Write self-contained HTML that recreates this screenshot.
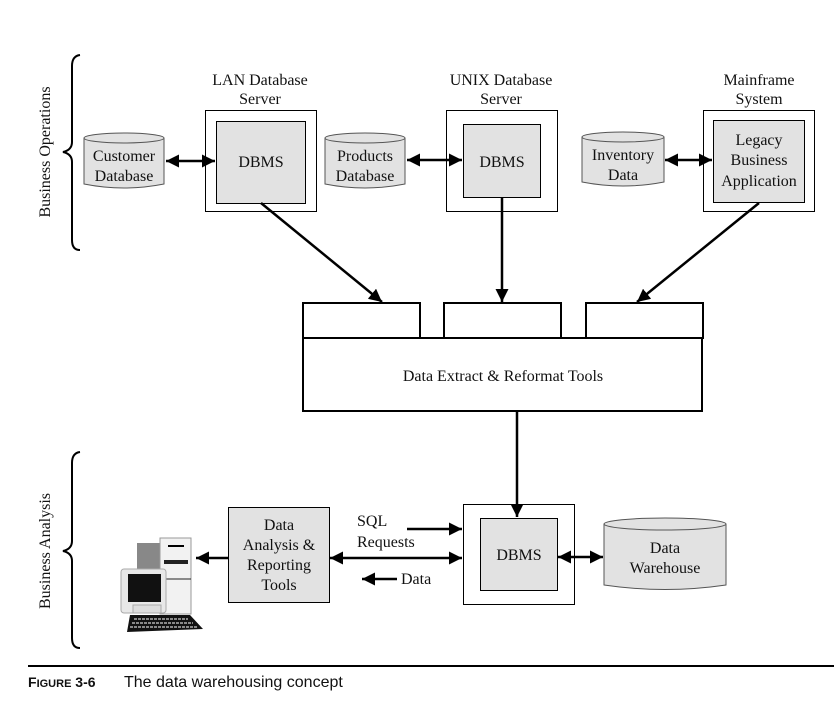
<!DOCTYPE html>
<html><head><meta charset="utf-8"><style>
html,body{margin:0;padding:0;background:#fff;}
svg{display:block;}
.t{font-family:"Liberation Serif",serif;font-size:16px;fill:#111;text-anchor:middle;}
</style></head><body>
<svg width="834" height="708" viewBox="0 0 834 708" xmlns="http://www.w3.org/2000/svg">
<defs>
<marker id="b" viewBox="0 0 10 10" refX="10" refY="5" markerWidth="13" markerHeight="13" orient="auto-start-reverse" markerUnits="userSpaceOnUse"><path d="M0,0L10,5L0,10z" fill="#000"/></marker>
</defs>
<path d="M80,55 Q72,56 72,66 L72,142 Q72,150 63,152 Q72,154 72,162 L72,240 Q72,250 80,250" fill="none" stroke="#000" stroke-width="2"/>
<path d="M80,452 Q72,453 72,463 L72,541 Q72,549 63,551 Q72,553 72,561 L72,638 Q72,648 80,648" fill="none" stroke="#000" stroke-width="2"/>
<text class="t" transform="translate(50,152) rotate(-90)">Business Operations</text>
<text class="t" transform="translate(50,551) rotate(-90)">Business Analysis</text>

<text class="t" x="260" y="85">LAN Database</text><text class="t" x="260" y="104">Server</text>
<text class="t" x="501" y="85">UNIX Database</text><text class="t" x="501" y="104">Server</text>
<text class="t" x="759" y="85">Mainframe</text><text class="t" x="759" y="104">System</text>

<rect x="205.5" y="110.5" width="111" height="101" fill="#fff" stroke="#000"/>
<rect x="216.5" y="121.5" width="89" height="82" fill="#e2e2e2" stroke="#000"/>
<text class="t" x="261" y="167">DBMS</text>
<rect x="446.5" y="110.5" width="111" height="101" fill="#fff" stroke="#000"/>
<rect x="463.5" y="124.5" width="77" height="73" fill="#e2e2e2" stroke="#000"/>
<text class="t" x="502" y="167">DBMS</text>
<rect x="703.5" y="110.5" width="111" height="101" fill="#fff" stroke="#000"/>
<rect x="713.5" y="120.5" width="91" height="82" fill="#e2e2e2" stroke="#000"/>
<text class="t" x="759" y="145">Legacy</text><text class="t" x="759" y="165">Business</text><text class="t" x="759" y="186">Application</text>

<g fill="#e2e2e2" stroke="#555">
<path d="M84,138 L84,184 Q124,192 164,184 L164,138"/><ellipse cx="124" cy="138" rx="40" ry="5"/>
<path d="M325,138 L325,184 Q365,192 405,184 L405,138"/><ellipse cx="365" cy="138" rx="40" ry="5"/>
<path d="M582,137 L582,182 Q623,190 664,182 L664,137"/><ellipse cx="623" cy="137" rx="41" ry="5"/>
<path d="M604,524 L604,585 Q665,594 726,585 L726,524"/><ellipse cx="665" cy="524" rx="61" ry="6"/>
</g>
<text class="t" x="124" y="161">Customer</text><text class="t" x="124" y="181">Database</text>
<text class="t" x="365" y="161">Products</text><text class="t" x="365" y="181">Database</text>
<text class="t" x="623" y="160">Inventory</text><text class="t" x="623" y="180">Data</text>
<text class="t" x="665" y="553">Data</text><text class="t" x="665" y="573">Warehouse</text>

<g stroke="#000" stroke-width="2.5">
<line x1="166" y1="161" x2="215" y2="161" marker-start="url(#b)" marker-end="url(#b)"/>
<line x1="407" y1="160" x2="462" y2="160" marker-start="url(#b)" marker-end="url(#b)"/>
<line x1="665" y1="160" x2="712" y2="160" marker-start="url(#b)" marker-end="url(#b)"/>
<line x1="261" y1="203" x2="382" y2="302" marker-end="url(#b)"/>
<line x1="502" y1="197" x2="502" y2="302" marker-end="url(#b)"/>
<line x1="759" y1="203" x2="637" y2="302" marker-end="url(#b)"/>
</g>

<g fill="#fff" stroke="#000" stroke-width="2">
<rect x="303" y="303" width="117" height="35"/>
<rect x="444" y="303" width="117" height="35"/>
<rect x="586" y="303" width="117" height="35"/>
<rect x="303" y="338" width="399" height="73"/>
</g>
<text class="t" x="503" y="381">Data Extract &amp; Reformat Tools</text>

<rect x="463.5" y="504.5" width="111" height="100" fill="#fff" stroke="#000"/>
<rect x="480.5" y="518.5" width="77" height="72" fill="#e2e2e2" stroke="#000"/>
<text class="t" x="519" y="560">DBMS</text>
<line x1="517" y1="411" x2="517" y2="517" stroke="#000" stroke-width="2.5" marker-end="url(#b)"/>
<line x1="558" y1="557" x2="603" y2="557" stroke="#000" stroke-width="2.5" marker-start="url(#b)" marker-end="url(#b)"/>

<rect x="228.5" y="507.5" width="101" height="95" fill="#e2e2e2" stroke="#000"/>
<text class="t" x="279" y="530">Data</text><text class="t" x="279" y="550">Analysis &amp;</text><text class="t" x="279" y="570">Reporting</text><text class="t" x="279" y="590">Tools</text>
<g stroke="#000" stroke-width="2.5">
<line x1="228" y1="558" x2="196" y2="558" marker-end="url(#b)"/>
<line x1="330" y1="558" x2="462" y2="558" marker-start="url(#b)" marker-end="url(#b)"/>
<line x1="407" y1="529" x2="462" y2="529" marker-end="url(#b)"/>
<line x1="397" y1="579" x2="362" y2="579" marker-end="url(#b)"/>
</g>
<text class="t" x="357" y="526" style="text-anchor:start">SQL</text>
<text class="t" x="357" y="547" style="text-anchor:start">Requests</text>
<text class="t" x="401" y="584" style="text-anchor:start">Data</text>

<rect x="137" y="543" width="24" height="58" fill="#888"/>
<rect x="160" y="538" width="31" height="76" fill="#f2f2f2" stroke="#999"/>
<rect x="168" y="545" width="16" height="2" fill="#000"/>
<rect x="164" y="560" width="24" height="4" fill="#222"/>
<line x1="160" y1="579" x2="191" y2="579" stroke="#222"/>
<rect x="121" y="569" width="45" height="44" rx="3" fill="#e8e8e8" stroke="#aaa"/>
<rect x="128" y="574" width="33" height="28" fill="#111"/>
<rect x="133" y="605" width="28" height="8" fill="#ddd" stroke="#aaa"/>
<path d="M130,615 L190,615 L203,629 L127,632 Z" fill="#111"/>
<path d="M134,619 L188,619 M132,623 L193,623 M130,627 L198,627" stroke="#fff" stroke-width="1" stroke-dasharray="3,1"/>

<line x1="28" y1="666" x2="834" y2="666" stroke="#000" stroke-width="2"/>
<text x="28" y="687" style="font-family:'Liberation Sans',sans-serif;font-size:14px;font-weight:bold;fill:#111">F<tspan font-size="11">IGURE</tspan> 3-6</text>
<text x="124" y="687" style="font-family:'Liberation Sans',sans-serif;font-size:16px;fill:#111">The data warehousing concept</text>
</svg>
</body></html>
